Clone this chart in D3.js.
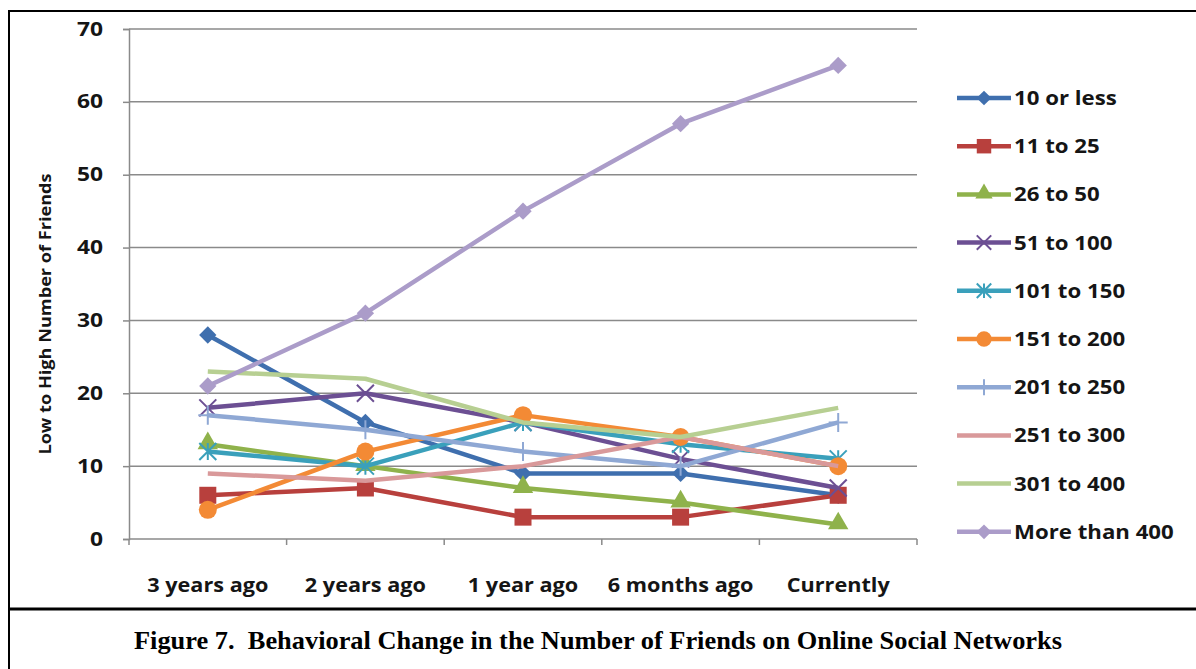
<!DOCTYPE html>
<html>
<head>
<meta charset="utf-8">
<script src="https://cdn.jsdelivr.net/npm/d3@7"></script>
<style>
  html, body { margin: 0; padding: 0; background: #fff; }
  svg { display: block; }
  text { white-space: pre; }
</style>
</head>
<body>
<svg id="chart" width="1196" height="669"></svg>
<script>
// Time periods along the x axis
const periods = ["3 years ago", "2 years ago", "1 year ago", "6 months ago", "Currently"];

// Friend-count groups, one line each
const groups = ["10 or less", "11 to 25", "26 to 50", "51 to 100", "101 to 150",
                "151 to 200", "201 to 250", "251 to 300", "301 to 400", "More than 400"];

const tenOrLess   = [28, 16, 9, 9, 6];
const from11to25  = [6, 7, 3, 3, 6];
const from26to50  = [13, 10, 7, 5, 2];
const from51to100 = [18, 20, 16, 11, 7];
const from101to150 = [12, 10, 16, 13, 11];
const from151to200 = [4, 12, 17, 14, 10];
const from201to250 = [17, 15, 12, 10, 16];
const from251to300 = [9, 8, 10, 14, 10];
const from301to400 = [23, 22, 16, 14, 18];
const moreThan400  = [21, 31, 45, 57, 65];

const yTicks = [0, 10, 20, 30, 40, 50, 60, 70];

const seriesValues = [tenOrLess, from11to25, from26to50, from51to100, from101to150,
                      from151to200, from201to250, from251to300, from301to400, moreThan400];

const colors = ["#3f6fae", "#b8403d", "#8fb24b", "#6c4f93", "#3aa0bb",
                "#f38a35", "#8fa8d4", "#d9999a", "#b7cf92", "#ab9cc9"];
const markers = ["diamond", "square", "triangle", "x", "star", "circle", "plus", "none", "none", "diamond"];

const svg = d3.select("#chart");

// Outer figure frame and caption divider
svg.append("line").attr("x1", 9).attr("x2", 9).attr("y1", 10).attr("y2", 669)
  .attr("stroke", "#000").attr("stroke-width", 2);
svg.append("line").attr("x1", 8).attr("x2", 1196).attr("y1", 11).attr("y2", 11)
  .attr("stroke", "#000").attr("stroke-width", 2);
svg.append("line").attr("x1", 8).attr("x2", 1196).attr("y1", 609).attr("y2", 609)
  .attr("stroke", "#000").attr("stroke-width", 3);

const plot = { left: 129, right: 917, top: 29, bottom: 539 };

const x = d3.scaleBand().domain(periods).range([plot.left, plot.right]);
const y = d3.scaleLinear().domain([0, 70]).range([plot.bottom, plot.top]);

const labelFont = "'Open Sans', 'DejaVu Sans', sans-serif";
const stretch = 1.17;   // widen glyphs horizontally
const textColor = "#151515";

// Horizontal gridlines
svg.append("g").selectAll("line").data(yTicks.filter(d => d > 0)).join("line")
  .attr("x1", plot.left).attr("x2", plot.right)
  .attr("y1", d => y(d)).attr("y2", d => y(d))
  .attr("stroke", "#8a8a8a").attr("stroke-width", 1.5);

// Y axis
const yAxis = svg.append("g").attr("transform", `translate(${plot.left},0)`)
  .call(d3.axisLeft(y).tickValues(yTicks).tickSize(6).tickPadding(20));
yAxis.select(".domain").attr("stroke", "#8a8a8a").attr("stroke-width", 1.5);
yAxis.selectAll(".tick line").attr("stroke", "#8a8a8a").attr("stroke-width", 1.5);
yAxis.selectAll(".tick text")
  .attr("x", -26 / 1.2)
  .attr("transform", "scale(1.2,1)")
  .attr("font-family", labelFont).attr("font-weight", 700).attr("font-size", 19)
  .attr("fill", textColor);

// X axis with ticks at category boundaries
const xAxisG = svg.append("g").attr("transform", `translate(0,${plot.bottom})`);
xAxisG.append("line").attr("x1", plot.left).attr("x2", plot.right)
  .attr("stroke", "#8a8a8a").attr("stroke-width", 1.5);
const boundaries = periods.map(p => x(p)).concat([plot.right]);
xAxisG.selectAll("line.tick").data(boundaries).join("line").attr("class", "tick")
  .attr("x1", d => d).attr("x2", d => d).attr("y1", 0).attr("y2", 6)
  .attr("stroke", "#8a8a8a").attr("stroke-width", 1.5);
xAxisG.selectAll("text").data(periods).join("text")
  .attr("transform", d => `translate(${x(d) + x.bandwidth() / 2},53) scale(1.14,1)`)
  .attr("text-anchor", "middle")
  .attr("font-family", labelFont).attr("font-weight", 700).attr("font-size", 19)
  .attr("fill", textColor)
  .text(d => d);

// Y axis title
svg.append("text")
  .attr("transform", `translate(51,${(plot.top + plot.bottom) / 2 + 30}) rotate(-90) scale(1.1,1)`)
  .attr("text-anchor", "middle")
  .attr("font-family", labelFont).attr("font-weight", 700).attr("font-size", 16.5)
  .attr("fill", textColor)
  .text("Low to High Number of Friends");

// Marker drawing
function drawMarker(g, type, color, cx, cy, scale) {
  const s = scale || 1;
  if (type === "diamond") {
    g.append("path").attr("d", d3.symbol(d3.symbolSquare, 150 * s * s)())
      .attr("transform", `translate(${cx},${cy}) rotate(45)`).attr("fill", color);
  } else if (type === "square") {
    const h = 8.5 * s;
    g.append("rect").attr("x", cx - h).attr("y", cy - h).attr("width", 2 * h).attr("height", 2 * h)
      .attr("fill", color);
  } else if (type === "triangle") {
    g.append("path").attr("d", d3.symbol(d3.symbolTriangle, 180 * s * s)())
      .attr("transform", `translate(${cx},${cy - 1})`).attr("fill", color);
  } else if (type === "circle") {
    g.append("circle").attr("cx", cx).attr("cy", cy).attr("r", 9 * s).attr("fill", color);
  } else if (type === "x") {
    const h = 8.5 * s;
    g.append("path").attr("d", `M${cx - h},${cy - h}L${cx + h},${cy + h}M${cx - h},${cy + h}L${cx + h},${cy - h}`)
      .attr("stroke", color).attr("stroke-width", 2).attr("fill", "none");
  } else if (type === "star") {
    const h = 8.5 * s;
    g.append("path").attr("d", `M${cx - h},${cy - h}L${cx + h},${cy + h}M${cx - h},${cy + h}L${cx + h},${cy - h}M${cx},${cy - h}L${cx},${cy + h}`)
      .attr("stroke", color).attr("stroke-width", 2).attr("fill", "none");
  } else if (type === "plus") {
    const h = 9.5 * s;
    g.append("path").attr("d", `M${cx - h},${cy}L${cx + h},${cy}M${cx},${cy - h}L${cx},${cy + h}`)
      .attr("stroke", color).attr("stroke-width", 2).attr("fill", "none");
  }
}

// Series lines and markers
const line = d3.line()
  .x((d, i) => x(periods[i]) + x.bandwidth() / 2)
  .y(d => y(d));

const seriesG = svg.append("g");
groups.forEach((name, k) => {
  const g = seriesG.append("g");
  g.append("path").datum(seriesValues[k])
    .attr("d", line).attr("fill", "none")
    .attr("stroke", colors[k]).attr("stroke-width", 4.5)
    .attr("stroke-linejoin", "round");
  seriesValues[k].forEach((v, i) => {
    drawMarker(g, markers[k], colors[k], x(periods[i]) + x.bandwidth() / 2, y(v));
  });
});

// Legend
const legend = svg.append("g");
groups.forEach((name, k) => {
  const ly = 98 + k * 48.2;
  const item = legend.append("g");
  item.append("line").attr("x1", 957).attr("x2", 1011).attr("y1", ly).attr("y2", ly)
    .attr("stroke", colors[k]).attr("stroke-width", 4.5);
  drawMarker(item, markers[k], colors[k], 984, ly, 0.85);
  item.append("text")
    .attr("transform", `translate(1014,${ly + 7}) scale(${stretch},1)`)
    .attr("font-family", labelFont).attr("font-weight", 700).attr("font-size", 19)
    .attr("fill", textColor)
    .text(name);
});

// Figure caption
svg.append("text")
  .attr("x", 598).attr("y", 649)
  .attr("text-anchor", "middle")
  .attr("textLength", 928).attr("lengthAdjust", "spacingAndGlyphs")
  .attr("font-family", "'Liberation Serif', 'Times New Roman', serif")
  .attr("font-weight", 700).attr("font-size", 25)
  .attr("fill", "#000")
  .text("Figure 7.  Behavioral Change in the Number of Friends on Online Social Networks");
</script>
</body>
</html>
